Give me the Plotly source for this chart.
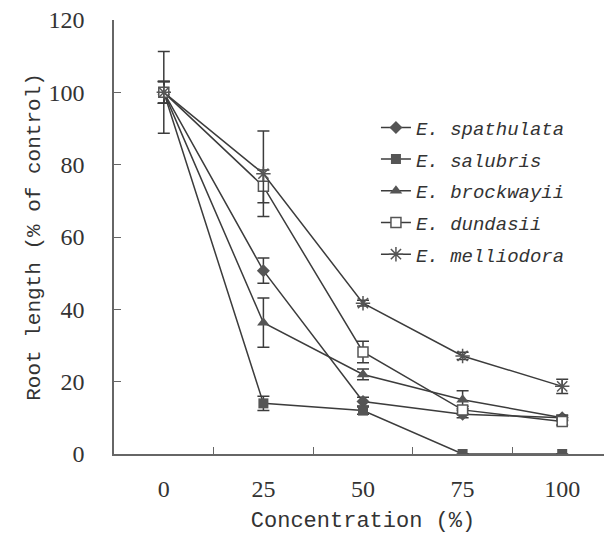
import plotly.graph_objects as go

concentrations = ["0", "25", "50", "75", "100"]

species = ["E. spathulata", "E. salubris", "E. brockwayii", "E. dundasii", "E. melliodora"]

spathulata = [100, 50.7, 14.5, 11.0, 10.0]
spathulata_err = [3, 3.5, 1.2, 1.0, 0.5]
salubris = [100, 14.0, 12.0, 0.0, 0.0]
salubris_err = [3, 2.0, 1.0, 0.0, 0.0]
brockwayii = [100, 36.3, 22.0, 15.0, 10.0]
brockwayii_err = [3, 6.8, 1.5, 2.5, 0.8]
dundasii = [100, 74.0, 28.2, 12.2, 9.0]
dundasii_err = [3, 4.5, 3.0, 1.0, 1.0]
melliodora = [100, 77.5, 41.7, 27.1, 18.7]
melliodora_err = [11.3, 11.8, 0.8, 1.0, 2.0]

series = [spathulata, salubris, brockwayii, dundasii, melliodora]
errors = [spathulata_err, salubris_err, brockwayii_err, dundasii_err, melliodora_err]

line_color = "#3c3c3c"
mark_color = "#555555"
markers = [
    dict(symbol="diamond", size=10, color=mark_color),
    dict(symbol="square", size=10, color=mark_color),
    dict(symbol="triangle-up", size=11, color=mark_color),
    dict(symbol="square", size=10, color="white", line=dict(color=mark_color, width=1.5)),
    dict(symbol="asterisk-open", size=12, color=mark_color, line=dict(color=mark_color, width=1.5)),
]

fig = go.Figure()
for i, (name, ys, err, mk) in enumerate(zip(species, series, errors, markers)):
    fig.add_trace(go.Scatter(
        x=concentrations, y=ys, name="<i>" + name + "</i>",
        legendgroup="g%d" % i,
        mode="lines+markers",
        line=dict(color=line_color, width=1.5),
        marker=mk,
        error_y=dict(type="data", array=err, visible=True, color=line_color,
                     thickness=1.5, width=6),
    ))

mono = "Liberation Mono"
serif = "Liberation Serif"

fig.update_layout(
    width=604, height=526,
    margin=dict(l=106, r=0, t=12, b=80),
    paper_bgcolor="white", plot_bgcolor="white",
    showlegend=True,
    legend=dict(x=0.526, y=0.796, xanchor="left", yanchor="top",
                font=dict(family=mono, size=19, color="#333333"),
                bgcolor="rgba(0,0,0,0)", tracegroupgap=4),
    xaxis=dict(type="category", range=[-0.5, 4.5], tickson="boundaries",
               automargin=False,
               ticks="inside", ticklen=7, tickcolor="#666666", tickwidth=1,
               showline=True, linecolor="#666666", linewidth=1.5,
               showgrid=False, zeroline=False,
               tickfont=dict(family=serif, size=24, color="#333333"),
               ticklabelstandoff=12,
               title=dict(text="Concentration (%)", font=dict(family=mono, size=22, color="#333333"),
                          standoff=20)),
    yaxis=dict(range=[0, 120], tickvals=[0, 20, 40, 60, 80, 100, 120],
               automargin=False, ticklabeloverflow="allow",
               ticks="inside", ticklen=7, tickcolor="#666666", tickwidth=1,
               showline=True, linecolor="#666666", linewidth=1.5,
               showgrid=False, zeroline=False,
               tickfont=dict(family=serif, size=24, color="#333333"),
               ticklabelstandoff=23,
               title=dict(text="Root length (% of control)", font=dict(family=mono, size=21, color="#333333"),
                          standoff=2)),
)

fig.write_html("out.html")
